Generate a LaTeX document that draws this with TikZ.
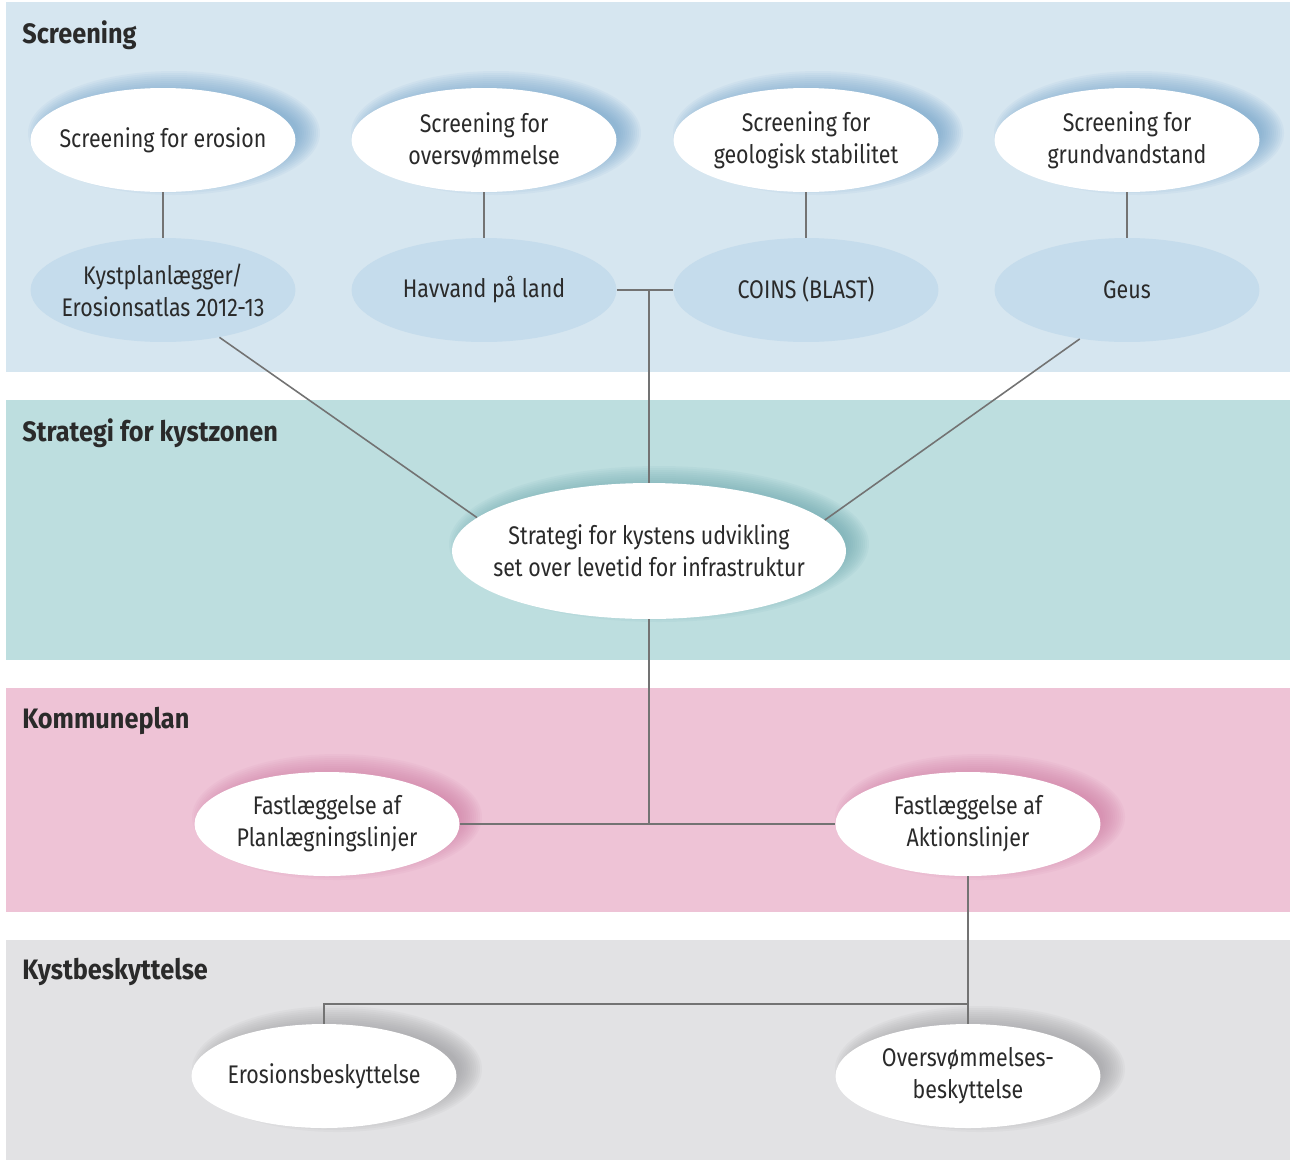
\documentclass[tikz,border=0pt]{standalone}
\usepackage{fontspec}
\setmainfont{Fira Sans}[FakeStretch=0.84]
\newfontfamily\headfont{Fira Sans}[FakeStretch=0.9]
\usetikzlibrary{shapes.geometric}

\definecolor{inkcol}{HTML}{2A2A2A}
\definecolor{linecol}{HTML}{737373}
\definecolor{scrbg}{HTML}{D6E6F0}
\definecolor{scrsoft}{HTML}{C5DCEC}
\definecolor{scrshade}{HTML}{6C9FC8}
\definecolor{strbg}{HTML}{BDDEDF}
\definecolor{strshade}{HTML}{6BA5AE}
\definecolor{kombg}{HTML}{EEC3D6}
\definecolor{komshade}{HTML}{CF7BA2}
\definecolor{kysbg}{HTML}{E2E2E4}
\definecolor{kysshade}{HTML}{97979A}

% soft shadow behind an oval: centre x, centre y, x radius, y radius, colour (px units)
\newcommand\ovalshade[5]{%
  \foreach \k in {0,...,11}{%
    \fill[#5, fill opacity=0.075] (#1+10,#2-7) ellipse
      [x radius={0.02cm*(#3+13-2*\k)}, y radius={0.02cm*(#4+10-2*\k)}];
  }%
}

\tikzset{
  oval/.style={ellipse, inner sep=0pt, minimum width=5.3cm, minimum height=2.08cm},
  whiteoval/.style={oval, fill=white},
  softoval/.style={oval, fill=scrsoft},
  bigoval/.style={ellipse, inner sep=0pt, fill=white, minimum width=7.88cm, minimum height=2.72cm},
  txt/.style={align=center, text=inkcol, font=\fontsize{14.5}{18.2}\selectfont, inner sep=0pt},
  heading/.style={anchor=west, text=inkcol, font=\headfont\fontsize{16}{19}\selectfont\bfseries, inner sep=0pt},
  link/.style={draw=linecol, line width=1.6pt},
  thinlink/.style={draw=linecol, line width=0.9pt},
}

\begin{document}
\begin{tikzpicture}[x=0.02cm, y=-0.02cm]
\useasboundingbox (0,0) rectangle (1290,1160);
\fill[white] (0,0) rectangle (1290,1160);

% bands
\fill[scrbg] (6,2) rectangle (1290,372);
\fill[strbg] (6,400) rectangle (1290,660);
\fill[kombg] (6,688) rectangle (1290,912);
\fill[kysbg] (6,940) rectangle (1290,1160);

\node[heading] (h1) at (22,35) {Screening};
\node[heading] (h2) at (22,433) {Strategi for kystzonen};
\node[heading] (h3) at (22,721) {Kommuneplan};
\node[heading] (h4) at (22,972) {Kystbeskyttelse};

% shadows
\ovalshade{164}{140}{133}{52}{scrshade}
\ovalshade{486}{140}{132}{52}{scrshade}
\ovalshade{808}{140}{132}{52}{scrshade}
\ovalshade{1129}{140}{132}{52}{scrshade}
\ovalshade{649}{551}{197}{68}{strshade}
\ovalshade{327}{824}{132}{53}{komshade}
\ovalshade{970}{824}{132}{53}{komshade}
\ovalshade{327}{1076}{132}{53}{kysshade}
\ovalshade{970}{1076}{132}{53}{kysshade}

% screening row
\node[whiteoval] (e1) at (163,140) {};
\node[txt] (e1t) at (e1) {Screening for erosion};
\node[whiteoval] (e2) at (484,140) {};
\node[txt] (e2t) at (e2) {Screening for\\oversvømmelse};
\node[whiteoval] (e3) at (806,140) {};
\node[txt] (e3t) at (e3) {Screening for\\geologisk stabilitet};
\node[whiteoval] (e4) at (1127,140) {};
\node[txt] (e4t) at (e4) {Screening for\\grundvandstand};

\node[softoval] (l1) at (163,290) {};
\node[txt] (l1t) at (l1) {Kystplanlægger/\\Erosionsatlas 2012-13};
\node[softoval] (l2) at (484,290) {};
\node[txt] (l2t) at (l2) {Havvand på land};
\node[softoval] (l3) at (806,290) {};
\node[txt] (l3t) at (l3) {COINS (BLAST)};
\node[softoval] (l4) at (1127,290) {};
\node[txt] (l4t) at (l4) {Geus};

% strategy
\node[bigoval] (s) at (649,551) {};
\node[txt] (st) at (s) {Strategi for kystens udvikling\\set over levetid for infrastruktur};

% municipal plan
\node[whiteoval] (f1) at (327,824) {};
\node[txt] (f1t) at (f1) {Fastlæggelse af\\Planlægningslinjer};
\node[whiteoval] (f2) at (968,824) {};
\node[txt] (f2t) at (f2) {Fastlæggelse af\\Aktionslinjer};

% coastal protection
\node[whiteoval] (k1) at (324,1076) {};
\node[txt] (k1t) at (k1) {Erosionsbeskyttelse};
\node[whiteoval] (k2) at (968,1076) {};
\node[txt] (k2t) at (k2) {Oversvømmelses-\\beskyttelse};

% connectors
\draw[link] (e1.south) -- (l1.north);
\draw[link] (e2.south) -- (l2.north);
\draw[link] (e3.south) -- (l3.north);
\draw[link] (e4.south) -- (l4.north);
\draw[link] (l2.east) -- (l3.west);
\draw[link] (s.north) -- (s.north |- l2.east);
\draw[thinlink] (l1.-40.6) -- (s.169.2);
\draw[thinlink] (l4.-134.4) -- (s.10.8);
\draw[link] (s.south) -- (s.south |- f1.east);
\draw[link] (f1.east) -- (f2.west);
\coordinate (kjy) at (0,1004);
\coordinate (kj) at (f2.south |- kjy);
\draw[link] (f2.south) -- (kj) -- (k2.north);
\draw[link] (kj) -| (k1.north);
\end{tikzpicture}
\end{document}
